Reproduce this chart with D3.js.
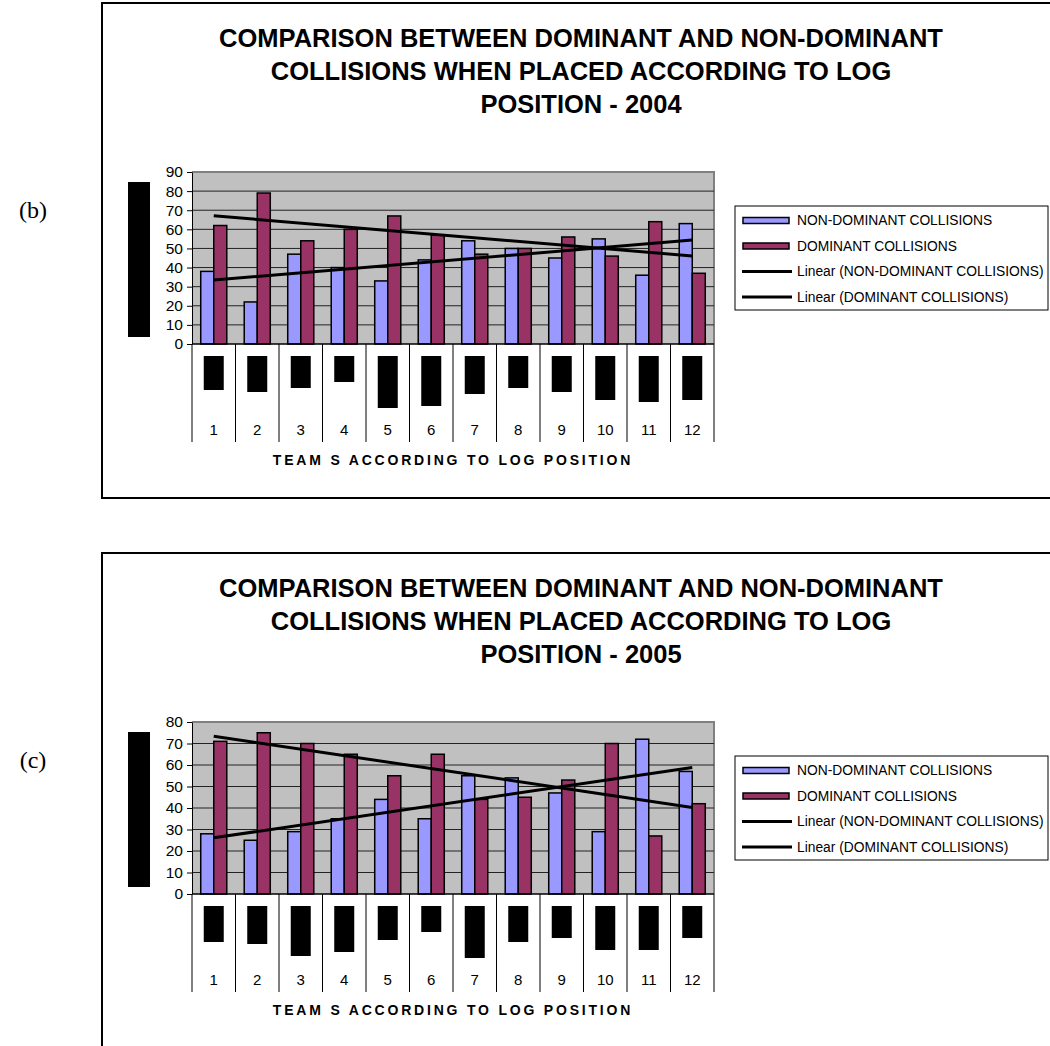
<!DOCTYPE html>
<html>
<head>
<meta charset="utf-8">
<script src="https://cdn.jsdelivr.net/npm/d3@7"></script>
<style>
  body { margin: 0; background: #fff; }
  svg { display: block; }
  text { font-family: "Liberation Sans", Arial, sans-serif; }
</style>
</head>
<body>
<div id="chart"></div>
<script>
// team positions on the log
const teams = ["1", "2", "3", "4", "5", "6", "7", "8", "9", "10", "11", "12"];

// 2004 season
const nonDominant2004 = [38, 22, 47, 40, 33, 44, 54, 50, 45, 55, 36, 63];
const dominant2004 = [62, 79, 54, 60, 67, 57, 47, 50, 56, 46, 64, 37];
const yTicks2004 = [0, 10, 20, 30, 40, 50, 60, 70, 80, 90];
// blacked-out category labels (length of each box, px)
const hidden2004 = [34, 36, 32, 26, 52, 50, 38, 32, 36, 44, 46, 44];

// 2005 season
const nonDominant2005 = [28, 25, 29, 35, 44, 35, 55, 54, 47, 29, 72, 57];
const dominant2005 = [71, 75, 70, 65, 55, 65, 44, 45, 53, 70, 27, 42];
const yTicks2005 = [0, 10, 20, 30, 40, 50, 60, 70, 80];
const hidden2005 = [36, 38, 50, 46, 34, 26, 52, 36, 32, 44, 44, 32];

const titleLines = [
  "COMPARISON BETWEEN DOMINANT AND NON-DOMINANT",
  "COLLISIONS WHEN PLACED ACCORDING TO LOG"
];
const legendLabels = [
  "NON-DOMINANT COLLISIONS",
  "DOMINANT COLLISIONS",
  "Linear (NON-DOMINANT COLLISIONS)",
  "Linear (DOMINANT COLLISIONS)"
];
const xTitle = "TEAM S ACCORDING TO LOG POSITION";

const colors = { nd: "#9999FF", d: "#993366" };

const width = 1050, height = 1046;
const plot = { left: 192, right: 714, top: 172, bottom: 344 };

const svg = d3.select("#chart")
  .append("svg")
    .attr("width", width)
    .attr("height", height);

function trend(values) {
  // least squares fit over positions 1..n
  const xs = values.map((_, i) => i + 1);
  const mx = d3.mean(xs), my = d3.mean(values);
  const slope = d3.sum(xs, (x, i) => (x - mx) * (values[i] - my)) / d3.sum(xs, x => (x - mx) ** 2);
  return x => my + slope * (x - mx);
}

function drawPanel(offsetY, tag, year, nd, dom, ticks, hidden) {
  const g = svg.append("g").attr("transform", `translate(0, ${offsetY})`);

  // outer frame (right edge runs off the page)
  g.append("rect")
    .attr("x", 102).attr("y", 3)
    .attr("width", 1000).attr("height", 495)
    .attr("fill", "none")
    .attr("stroke", "#000")
    .attr("stroke-width", 2);

  g.append("text")
    .attr("x", 33).attr("y", 218)
    .attr("text-anchor", "middle")
    .style("font-family", "'Liberation Serif', 'Times New Roman', serif")
    .style("font-size", "24px")
    .text(tag);

  const title = g.append("text")
    .attr("text-anchor", "middle")
    .style("font-weight", "bold")
    .style("font-size", "25.5px");
  titleLines.concat([`POSITION - ${year}`]).forEach((t, i) => {
    title.append("tspan").attr("x", 581).attr("y", 47 + i * 33).text(t);
  });

  const x = d3.scaleBand().domain(teams).range([plot.left, plot.right]);
  const sub = d3.scaleBand().domain(["nd", "d"]).range([0, x.bandwidth()]).paddingOuter(0.67);
  const y = d3.scaleLinear().domain([0, d3.max(ticks)]).range([plot.bottom, plot.top]);

  // plot background
  g.append("rect")
    .attr("x", plot.left).attr("y", plot.top)
    .attr("width", plot.right - plot.left).attr("height", plot.bottom - plot.top)
    .attr("fill", "#C0C0C0");
  g.append("path")
    .attr("d", `M${plot.left},${plot.top}H${plot.right}V${plot.bottom}`)
    .attr("fill", "none")
    .attr("stroke", "#808080")
    .attr("stroke-width", 2);

  g.append("g")
    .selectAll("line")
    .data(ticks.filter(t => t > 0 && t < d3.max(ticks)))
    .join("line")
      .attr("x1", plot.left).attr("x2", plot.right)
      .attr("y1", d => y(d)).attr("y2", d => y(d))
      .attr("stroke", "#222")
      .attr("stroke-width", 1);

  // y axis
  const yAxis = g.append("g")
    .attr("transform", `translate(${plot.left}, 0)`)
    .call(d3.axisLeft(y).tickValues(ticks).tickSize(5).tickSizeOuter(0).tickPadding(4));
  yAxis.selectAll("text").style("font-size", "15.5px").attr("fill", "#000");
  yAxis.selectAll("line, path").attr("stroke", "#000");

  // y title (blacked out)
  g.append("rect")
    .attr("x", 128).attr("y", 182)
    .attr("width", 22).attr("height", 155)
    .attr("fill", "#000");

  // category dividers below the axis
  g.append("g")
    .selectAll("line")
    .data(d3.range(teams.length + 1))
    .join("line")
      .attr("x1", i => plot.left + i * x.step())
      .attr("x2", i => plot.left + i * x.step())
      .attr("y1", plot.bottom).attr("y2", plot.bottom + 98)
      .attr("stroke", "#000");

  // blacked-out category labels
  g.append("g")
    .selectAll("rect")
    .data(hidden)
    .join("rect")
      .attr("x", (d, i) => x(teams[i]) + x.bandwidth() / 2 - 10)
      .attr("y", plot.bottom + 12)
      .attr("width", 20)
      .attr("height", d => d)
      .attr("fill", "#000");

  g.append("g")
    .selectAll("text")
    .data(teams)
    .join("text")
      .attr("x", d => x(d) + x.bandwidth() / 2)
      .attr("y", plot.bottom + 91)
      .attr("text-anchor", "middle")
      .style("font-size", "15px")
      .text(d => d);

  g.append("text")
    .attr("x", 453).attr("y", 465)
    .attr("text-anchor", "middle")
    .style("font-weight", "bold")
    .style("font-size", "14px")
    .style("letter-spacing", "2.8px")
    .text(xTitle);

  // bars
  const rows = teams.map((t, i) => ({ team: t, nd: nd[i], d: dom[i] }));
  g.append("g")
    .selectAll("g")
    .data(rows)
    .join("g")
      .attr("transform", d => `translate(${x(d.team)}, 0)`)
    .selectAll("rect")
    .data(d => ["nd", "d"].map(k => ({ key: k, value: d[k] })))
    .join("rect")
      .attr("x", d => sub(d.key))
      .attr("y", d => y(d.value))
      .attr("width", sub.bandwidth())
      .attr("height", d => y(0) - y(d.value))
      .attr("fill", d => colors[d.key])
      .attr("stroke", "#000")
      .attr("stroke-width", 1.5);

  // zero line
  g.append("line")
    .attr("x1", plot.left).attr("x2", plot.right)
    .attr("y1", plot.bottom).attr("y2", plot.bottom)
    .attr("stroke", "#000").attr("stroke-width", 1.5);

  // linear trend lines
  const cx = i => x(teams[i - 1]) + x.bandwidth() / 2;
  [nd, dom].forEach(values => {
    const f = trend(values);
    g.append("line")
      .attr("x1", cx(1)).attr("y1", y(f(1)))
      .attr("x2", cx(teams.length)).attr("y2", y(f(teams.length)))
      .attr("stroke", "#000")
      .attr("stroke-width", 3);
  });

  // legend
  const legend = g.append("g").attr("transform", "translate(735, 206)");
  legend.append("rect")
    .attr("width", 313).attr("height", 104)
    .attr("fill", "#fff")
    .attr("stroke", "#000");
  legendLabels.forEach((label, i) => {
    const cy = 14.5 + i * 25.5;
    if (i < 2) {
      legend.append("rect")
        .attr("x", 8).attr("y", cy - 3)
        .attr("width", 46).attr("height", 6)
        .attr("fill", i === 0 ? colors.nd : colors.d)
        .attr("stroke", "#000").attr("stroke-width", 1.5);
    } else {
      legend.append("line")
        .attr("x1", 7).attr("x2", 57)
        .attr("y1", cy).attr("y2", cy)
        .attr("stroke", "#000").attr("stroke-width", 3);
    }
    legend.append("text")
      .attr("x", 62).attr("y", cy)
      .attr("dominant-baseline", "central")
      .style("font-size", "13.8px")
      .text(label);
  });
}

drawPanel(0, "(b)", "2004", nonDominant2004, dominant2004, yTicks2004, hidden2004);
drawPanel(550, "(c)", "2005", nonDominant2005, dominant2005, yTicks2005, hidden2005);
</script>
</body>
</html>
